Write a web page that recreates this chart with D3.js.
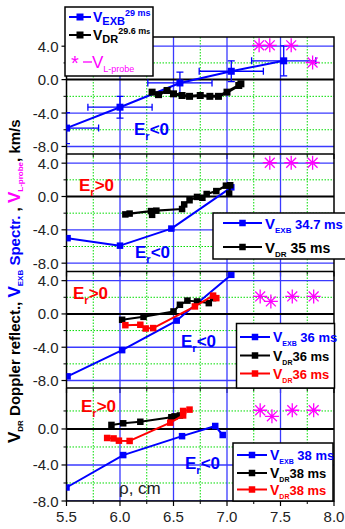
<!DOCTYPE html>
<html>
<head>
<meta charset="utf-8">
<script src="https://cdn.jsdelivr.net/npm/d3@7"></script>
<style>
  body { margin: 0; background: #fff; }
  svg text { font-family: Arial, "Liberation Sans", sans-serif; }
</style>
</head>
<body>
<svg id="chart" width="345" height="529"></svg>
<script>
// ---------- data ----------
const xTicks = [5.5, 6.0, 6.5, 7.0, 7.5, 8.0];
const xMinor = [5.75, 6.25, 6.75, 7.25, 7.75];
const xTickLabels = ["5.5", "6.0", "6.5", "7.0", "7.5", "8.0"];

// panel 1 (29 ms)
const p1Exb = [[5.5, -5.8], [6.0, -3.3], [6.56, -0.4], [7.04, 1.0], [7.53, 2.25]];
const p1ExbXerr = [0.3, 0.3, 0.3, 0.3, 0.3];
const p1ExbYerr = [1.85, 1.3, 1.3, 1.25, 1.8];
const p1Dr = [[6.30, -1.5], [6.36, -1.8], [6.44, -1.3], [6.50, -1.7], [6.58, -1.9], [6.65, -2.0],
              [6.75, -1.9], [6.84, -2.0], [6.92, -2.0], [7.0, -1.5], [7.11, -0.7], [7.13, -0.5]];
const p1Probe = [[7.3, 4.1], [7.4, 4.1], [7.6, 4.1], [7.8, 2.05]];

// panel 2 (34.7 / 35 ms)
const p2Exb = [[5.51, -5.0], [6.0, -5.9], [6.48, -3.85], [7.04, 1.1]];
const p2Dr = [[6.05, -2.15], [6.09, -2.05], [6.29, -1.75], [6.30, -2.2], [6.34, -1.7], [6.58, -1.5],
              [6.60, -0.95], [6.65, -0.45], [6.72, -0.05], [6.77, -0.15], [6.81, 0.3], [6.90, 0.65],
              [6.99, 1.3], [7.03, 1.35], [7.02, 0.35]];
const p2Probe = [[7.4, 4.05], [7.6, 4.05], [7.8, 4.05]];

// panel 3 (36 ms)
const p3Exb = [[5.51, -7.5], [6.02, -4.35], [6.53, -0.8], [7.04, 4.7]];
const p3Dr = [[6.02, -0.7], [6.22, -0.35], [6.50, 0.3], [6.56, 1.1], [6.63, 1.6], [6.72, 1.5],
              [6.83, 1.3], [6.87, 1.9]];
const p3DrRed = [[6.05, -1.35], [6.19, -1.3], [6.24, -1.75], [6.31, -1.7], [6.70, 0.9], [6.87, 2.2], [6.90, 1.9]];
const p3Probe = [[7.31, 2.1], [7.41, 1.5], [7.61, 2.1], [7.81, 2.1]];

// panel 4 (38 ms)
const p4Exb = [[5.5, -6.5], [6.03, -2.9], [6.58, -0.8], [6.89, 0.33], [6.96, -0.67]];
const p4Dr = [[5.92, 0.45], [6.03, 0.63], [6.19, 0.8], [6.48, 1.3], [6.51, 1.4], [6.56, 1.5]];
const p4DrRed = [[5.88, -1.0], [5.94, -1.05], [5.99, -1.3], [6.09, -1.33], [6.47, 0.7], [6.59, 1.5],
                 [6.59, 2.0], [6.65, 2.15]];
const p4Probe = [[7.31, 2.08], [7.42, 1.4], [7.61, 2.08], [7.81, 2.08]];

const yMajor = [4, 0, -4, -8];
const yMinor = [2, -2, -6];
const yLabels = ["4.0", "0.0", "-4.0", "-8.0"];

// ---------- layout ----------
const BLUE = "#0000ff", RED = "#ff0000", MAG = "#ff00ff", GREEN = "#00dd00", GRIDBLUE = "#3a3aff";
const svg = d3.select("#chart");
const x = d3.scaleLinear().domain([5.5, 8.0]).range([66.5, 334]);

const panels = [
  {top: 37,    bottom: 154,   dom: [-8.9, 5.1], majors: yMajor},
  {top: 154,   bottom: 271.5, dom: [-9.0, 5.1], majors: yMajor},
  {top: 271.5, bottom: 388,   dom: [-8.9, 5.1], majors: yMajor},
  {top: 388,   bottom: 501,   dom: [-8.0, 4.55], majors: [0, -4, -8]}
];
panels.forEach(p => { p.y = d3.scaleLinear().domain(p.dom).range([p.bottom, p.top]); });

const defs = svg.append("defs");
panels.forEach((p, i) => {
  defs.append("clipPath").attr("id", "clip" + i)
    .append("rect").attr("x", x(5.5)).attr("y", p.top).attr("width", x(8) - x(5.5)).attr("height", p.bottom - p.top);
});

// ---------- grid ----------
panels.forEach((p, i) => {
  const g = svg.append("g").attr("clip-path", "url(#clip" + i + ")");
  g.selectAll(".vmin").data(xMinor).join("line")
    .attr("x1", d => x(d)).attr("x2", d => x(d)).attr("y1", p.top).attr("y2", p.bottom)
    .attr("stroke", GREEN).attr("stroke-width", 1).attr("stroke-dasharray", "1.5,1.5");
  g.selectAll(".hmin").data(yMinor).join("line")
    .attr("x1", x(5.5)).attr("x2", x(8)).attr("y1", d => p.y(d)).attr("y2", d => p.y(d))
    .attr("stroke", GREEN).attr("stroke-width", 1).attr("stroke-dasharray", "1.5,1.5");
  g.selectAll(".vmaj").data([6.0, 6.5, 7.0, 7.5]).join("line")
    .attr("x1", d => x(d)).attr("x2", d => x(d)).attr("y1", p.top).attr("y2", p.bottom)
    .attr("stroke", GRIDBLUE).attr("stroke-width", 1.3);
  g.selectAll(".hmaj").data(p.majors.filter(d => d != 0)).join("line")
    .attr("x1", x(5.5)).attr("x2", x(8)).attr("y1", d => p.y(d)).attr("y2", d => p.y(d))
    .attr("stroke", GRIDBLUE).attr("stroke-width", 1.3);
  g.append("line").attr("x1", x(5.5)).attr("x2", x(8)).attr("y1", p.y(0)).attr("y2", p.y(0))
    .attr("stroke", "#000").attr("stroke-width", 2);

  // left axis ticks + labels
  const ax = svg.append("g").attr("transform", "translate(" + x(5.5) + ",0)");
  ax.selectAll(".tk").data(p.majors).join("line")
    .attr("x1", -5).attr("x2", 0).attr("y1", d => p.y(d)).attr("y2", d => p.y(d))
    .attr("stroke", "#000").attr("stroke-width", 1.2);
  ax.selectAll(".tm").data(yMinor).join("line")
    .attr("x1", -3).attr("x2", 0).attr("y1", d => p.y(d)).attr("y2", d => p.y(d))
    .attr("stroke", "#000").attr("stroke-width", 1);
  ax.selectAll("text").data(p.majors).join("text")
    .attr("x", -8).attr("y", d => p.y(d) + 5.5)
    .attr("text-anchor", "end").attr("font-size", 15).attr("fill", "#222")
    .text(d => yLabels[yMajor.indexOf(d)]);

  // bottom ticks of every panel
  const bx = svg.append("g").attr("transform", "translate(0," + p.bottom + ")");
  bx.selectAll(".bt").data(xTicks).join("line")
    .attr("x1", d => x(d)).attr("x2", d => x(d)).attr("y1", 0).attr("y2", 5)
    .attr("stroke", "#000").attr("stroke-width", 1.2);
  bx.selectAll(".bm").data(xMinor).join("line")
    .attr("x1", d => x(d)).attr("x2", d => x(d)).attr("y1", 0).attr("y2", 3)
    .attr("stroke", "#000").attr("stroke-width", 1);
});

// frame
svg.append("rect").attr("x", x(5.5)).attr("y", 37).attr("width", x(8) - x(5.5)).attr("height", 501 - 37)
  .attr("fill", "none").attr("stroke", "#000").attr("stroke-width", 1.5);
panels.slice(1).forEach(p => {
  svg.append("line").attr("x1", x(5.5)).attr("x2", x(8)).attr("y1", p.top).attr("y2", p.top)
    .attr("stroke", "#000").attr("stroke-width", 1.5);
});

// x tick labels
svg.append("g").selectAll("text").data(xTicks).join("text")
  .attr("x", d => x(d)).attr("y", 522).attr("text-anchor", "middle")
  .attr("font-size", 15).attr("fill", "#222").text((d, i) => xTickLabels[i]);

// ---------- series helpers ----------
function drawSeries(i, data, color, lw, ms) {
  const p = panels[i];
  const g = svg.append("g").attr("clip-path", "url(#clip" + i + ")");
  g.append("path").datum(data)
    .attr("d", d3.line().x(d => x(d[0])).y(d => p.y(d[1])))
    .attr("fill", "none").attr("stroke", color).attr("stroke-width", lw).attr("stroke-linejoin", "round");
  g.selectAll("rect").data(data).join("rect")
    .attr("x", d => x(d[0]) - ms / 2).attr("y", d => p.y(d[1]) - ms / 2)
    .attr("width", ms).attr("height", ms).attr("fill", color);
}
function star(g, cx, cy, r, color) {
  const path = d3.path();
  for (let k = 0; k < 4; k++) {
    const a = k * Math.PI / 4;
    path.moveTo(cx - r * Math.cos(a), cy - r * Math.sin(a));
    path.lineTo(cx + r * Math.cos(a), cy + r * Math.sin(a));
  }
  g.append("path").attr("d", path.toString()).attr("stroke", color).attr("stroke-width", 1.3).attr("fill", "none");
}
function drawProbe(i, data) {
  const p = panels[i];
  const g = svg.append("g");
  data.forEach(d => star(g, x(d[0]), p.y(d[1]), 7, MAG));
}

// panel 1 error bars
(function () {
  const p = panels[0];
  const g = svg.append("g").attr("clip-path", "url(#clip0)").attr("stroke", BLUE).attr("stroke-width", 1.3);
  p1Exb.forEach((d, k) => {
    const cx = x(d[0]), cy = p.y(d[1]);
    const x0 = x(d[0] - p1ExbXerr[k]), x1 = x(d[0] + p1ExbXerr[k]);
    const y0 = p.y(d[1] + p1ExbYerr[k]), y1 = p.y(d[1] - p1ExbYerr[k]);
    g.append("line").attr("x1", x0).attr("x2", x1).attr("y1", cy).attr("y2", cy);
    g.append("line").attr("x1", x0).attr("x2", x0).attr("y1", cy - 3.5).attr("y2", cy + 3.5);
    g.append("line").attr("x1", x1).attr("x2", x1).attr("y1", cy - 3.5).attr("y2", cy + 3.5);
    g.append("line").attr("x1", cx).attr("x2", cx).attr("y1", y0).attr("y2", y1);
    g.append("line").attr("x1", cx - 3.5).attr("x2", cx + 3.5).attr("y1", y0).attr("y2", y0);
    g.append("line").attr("x1", cx - 3.5).attr("x2", cx + 3.5).attr("y1", y1).attr("y2", y1);
  });
})();

drawSeries(0, p1Exb, BLUE, 2, 7);
drawSeries(0, p1Dr, "#000", 3, 7);
drawProbe(0, p1Probe);

drawSeries(1, p2Exb, BLUE, 2, 6.5);
drawSeries(1, p2Dr, "#000", 2.2, 6.5);
drawProbe(1, p2Probe);

drawSeries(2, p3Exb, BLUE, 2, 6.5);
drawSeries(2, p3Dr, "#000", 2, 6.5);
drawSeries(2, p3DrRed, RED, 2, 6.5);
drawProbe(2, p3Probe);

drawSeries(3, p4Exb, BLUE, 2, 6.5);
drawSeries(3, p4Dr, "#000", 2, 6.5);
drawSeries(3, p4DrRed, RED, 2, 6.5);
drawProbe(3, p4Probe);

// ---------- rich text helper ----------
function rich(parent, px, py, parts, attrs) {
  const t = parent.append("text").attr("x", px).attr("y", py);
  if (attrs) Object.entries(attrs).forEach(([k, v]) => t.attr(k, v));
  parts.forEach(s => {
    const ts = t.append("tspan").text(s.t)
      .attr("font-size", s.size).attr("font-weight", s.w || "bold").attr("fill", s.c || "#000");
    if (s.dy) ts.attr("dy", s.dy);
  });
  return t;
}
function erLabel(px, py, sign, color) {
  rich(svg, px, py, [
    {t: "E", size: 17, c: color},
    {t: "r", size: 11, c: color, dy: 5},
    {t: sign + "0", size: 17, c: color, dy: -5}
  ]);
}
erLabel(134, 135, "<", BLUE);
erLabel(79, 191, ">", RED);
erLabel(135, 258, "<", BLUE);
erLabel(73, 299, ">", RED);
erLabel(181, 347, "<", BLUE);
erLabel(81, 412, ">", RED);
erLabel(185, 469, "<", BLUE);

svg.append("text").attr("x", 119).attr("y", 494).attr("font-size", 17).attr("fill", "#222").text("\u03c1, cm");

// ---------- legends ----------
function legendBox(x0, y0, w, h) {
  svg.append("rect").attr("x", x0).attr("y", y0).attr("width", w).attr("height", h)
    .attr("fill", "#fff").attr("stroke", "#000").attr("stroke-width", 1.5);
}
function legendLine(x0, x1, yy, color, ms) {
  svg.append("line").attr("x1", x0).attr("x2", x1).attr("y1", yy).attr("y2", yy)
    .attr("stroke", color).attr("stroke-width", 2);
  svg.append("rect").attr("x", (x0 + x1) / 2 - ms / 2).attr("y", yy - ms / 2)
    .attr("width", ms).attr("height", ms).attr("fill", color);
}

// legend 1
legendBox(65, 7, 88, 69);
legendLine(69, 91, 17, BLUE, 7);
rich(svg, 93, 22, [
  {t: "V", size: 14, c: BLUE}, {t: "EXB", size: 11, c: BLUE, dy: 3}, {t: "29 ms", size: 9, c: BLUE, dy: -9}
]);
legendLine(69, 91, 35, "#000", 7);
rich(svg, 93, 40, [
  {t: "V", size: 14}, {t: "DR", size: 11, dy: 3}, {t: "29.6 m", size: 9, dy: -9}, {t: "s", size: 7}
]);
rich(svg, 71, 70, [{t: "*", size: 20, c: MAG, w: "normal"}]);
svg.append("line").attr("x1", 83).attr("x2", 92).attr("y1", 62).attr("y2", 62).attr("stroke", MAG).attr("stroke-width", 1.3);
rich(svg, 92, 68, [
  {t: "V", size: 17, c: MAG, w: "normal"}, {t: "L-probe", size: 9, c: MAG, w: "normal", dy: 4}
]);

// legend 2 (runs to the right edge, as in the original)
legendBox(213, 213, 140, 46);
legendLine(223, 262, 223, BLUE, 6.5);
rich(svg, 265, 229, [
  {t: "V", size: 15, c: BLUE}, {t: "EXB", size: 8, c: BLUE, dy: 4}, {t: " 34.7 ms", size: 13, c: BLUE, dy: -4}
]);
legendLine(223, 262, 247, "#000", 6.5);
rich(svg, 265, 253, [
  {t: "V", size: 15}, {t: "DR", size: 8, dy: 4}, {t: " 35 ms", size: 14, dy: -4}
]);

// legend 3
legendBox(236.5, 323.5, 98, 64.5);
legendLine(240, 270, 337, BLUE, 6.5);
rich(svg, 273, 342, [
  {t: "V", size: 14, c: BLUE}, {t: "EXB", size: 7, c: BLUE, dy: 4}, {t: " 36 ms", size: 13, c: BLUE, dy: -4}
]);
legendLine(240, 270, 355.5, "#000", 6.5);
rich(svg, 273, 360.5, [
  {t: "V", size: 14}, {t: "DR", size: 7, dy: 4}, {t: "36 ms", size: 13, dy: -4}
]);
legendLine(240, 270, 373.5, RED, 6.5);
rich(svg, 273, 378.5, [
  {t: "V", size: 14, c: RED}, {t: "DR", size: 7, c: RED, dy: 4}, {t: "36 ms", size: 13, c: RED, dy: -4}
]);

// legend 4
legendBox(233, 443, 100, 58);
legendLine(237, 267, 455, BLUE, 6.5);
rich(svg, 270, 460, [
  {t: "V", size: 14, c: BLUE}, {t: "EXB", size: 7, c: BLUE, dy: 4}, {t: " 38 ms", size: 13, c: BLUE, dy: -4}
]);
legendLine(237, 267, 473, "#000", 6.5);
rich(svg, 270, 478, [
  {t: "V", size: 14}, {t: "DR", size: 7, dy: 4}, {t: "38 ms", size: 13, dy: -4}
]);
legendLine(237, 267, 489.5, RED, 6.5);
rich(svg, 270, 494.5, [
  {t: "V", size: 14, c: RED}, {t: "DR", size: 7, c: RED, dy: 4}, {t: "38 ms", size: 13, c: RED, dy: -4}
]);

// ---------- y axis title (rotated, multi-coloured) ----------
rich(svg, 0, 0, [
  {t: "V", size: 17},
  {t: "DR", size: 8, dy: 3},
  {t: " Doppler reflect., ", size: 15, dy: -3},
  {t: "V", size: 17, c: BLUE},
  {t: "EXB", size: 8, c: BLUE, dy: 3},
  {t: " Spectr.", size: 15, c: BLUE, dy: -3},
  {t: " , ", size: 15},
  {t: "V", size: 17, c: MAG},
  {t: "L-probe", size: 8, c: MAG, dy: 3},
  {t: ", km/s", size: 15, dy: -3}
], {transform: "translate(20,443) rotate(-90)"});
</script>
</body>
</html>
